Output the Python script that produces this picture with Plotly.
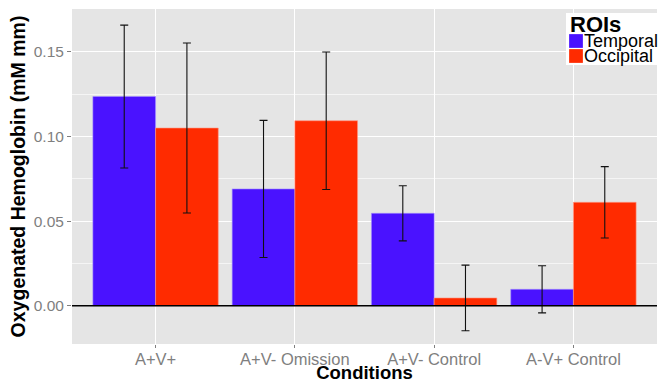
import plotly.graph_objects as go

conditions = ["A+V+", "A+V- Omission", "A+V- Control", "A-V+ Control"]
temporal = [0.1236, 0.0690, 0.0546, 0.0097]
temporal_err = [0.0422, 0.0405, 0.0163, 0.0139]
occipital = [0.1050, 0.1093, 0.0046, 0.0611]
occipital_err = [0.0502, 0.0406, 0.0194, 0.0211]
y_ticks = [0.00, 0.05, 0.10, 0.15]
y_tick_labels = ["0.00", "0.05", "0.10", "0.15"]
series_names = ["Temporal", "Occipital"]

BLUE = "#4A12FF"
RED = "#FF2B00"
colors = [BLUE, RED]

W, H = 658, 383
ML, MR, MT, MB = 72, 1, 9, 39
PW, PH = W - ML - MR, H - MT - MB


def px2paper(px, py):
    return (px - ML) / PW, (H - MB - py) / PH


fig = go.Figure()
fig.add_trace(go.Bar(
    x=conditions, y=temporal, name=series_names[0], showlegend=False,
    marker=dict(color=BLUE, line=dict(color="rgba(160,140,255,0.6)", width=1)),
    error_y=dict(type="data", array=temporal_err, color="#111111", thickness=1.1, width=4),
))
fig.add_trace(go.Bar(
    x=conditions, y=occipital, name=series_names[1], showlegend=False,
    marker=dict(color=RED, line=dict(color="rgba(255,150,130,0.6)", width=1)),
    error_y=dict(type="data", array=occipital_err, color="#111111", thickness=1.1, width=4),
))

fig.add_hline(y=0, line=dict(color="black", width=1.5), layer="above")

# manual legend (ggplot-style compact legend)
x0, y0 = px2paper(566, 13)
x1, y1 = px2paper(658, 65)
fig.add_shape(type="rect", xref="paper", yref="paper", x0=x0, x1=x1, y0=y1, y1=y0,
              fillcolor="white", line=dict(width=0), layer="above")
tx, ty = px2paper(568, 24)
fig.add_annotation(xref="paper", yref="paper", x=tx, y=ty, xanchor="left", yanchor="middle",
                   text="<b>ROIs</b>", showarrow=False, font=dict(size=22, color="black"))
for i, (nm, c) in enumerate(zip(series_names, colors)):
    top = 34 + i * 15
    sx0, sy0 = px2paper(569, top)
    sx1, sy1 = px2paper(583, top + 14)
    fig.add_shape(type="rect", xref="paper", yref="paper", x0=sx0, x1=sx1, y0=sy1, y1=sy0,
                  fillcolor=c, line=dict(color="rgba(255,255,255,0.5)", width=0.5), layer="above")
    lx, ly = px2paper(582, top + 7.5)
    fig.add_annotation(xref="paper", yref="paper", x=lx, y=ly, xanchor="left", yanchor="middle",
                       text=nm, showarrow=False, font=dict(size=18, color="black"))

fig.update_layout(
    width=W, height=H,
    margin=dict(l=ML, r=MR, t=MT, b=MB),
    paper_bgcolor="white",
    plot_bgcolor="#E5E5E5",
    barmode="group", bargap=0.1, bargroupgap=0,
    font=dict(family="Liberation Sans, Arial, sans-serif"),
    xaxis=dict(
        type="category", automargin=False,
        range=[-0.6, 3.6],
        showgrid=True, gridcolor="white", gridwidth=1,
        ticks="outside", ticklen=3, tickcolor="#7F7F7F",
        ticklabelstandoff=-3,
        tickfont=dict(size=16.5, color="#7F7F7F"),
        title=dict(text="<b>Conditions</b>", font=dict(size=18.5, color="black"), standoff=0),
        zeroline=False, showline=False,
    ),
    yaxis=dict(
        automargin=False,
        range=[-0.0226, 0.1753],
        tickvals=y_ticks, ticktext=y_tick_labels,
        showgrid=True, gridcolor="white", gridwidth=1,
        minor=dict(dtick=0.025, tick0=0.025, showgrid=True, gridcolor="#F5F5F5", gridwidth=0.6),
        ticks="outside", ticklen=4, tickcolor="#7F7F7F",
        tickfont=dict(size=15.5, color="#7F7F7F"),
        title=dict(text="<b>Oxygenated Hemoglobin (mM mm)</b>", font=dict(size=19.5, color="black"), standoff=2),
        zeroline=False, showline=False,
    ),
)

fig.write_html("out.html", config={"displayModeBar": False},
               post_script="document.body.style.margin='0px';document.body.style.overflow='hidden';")
